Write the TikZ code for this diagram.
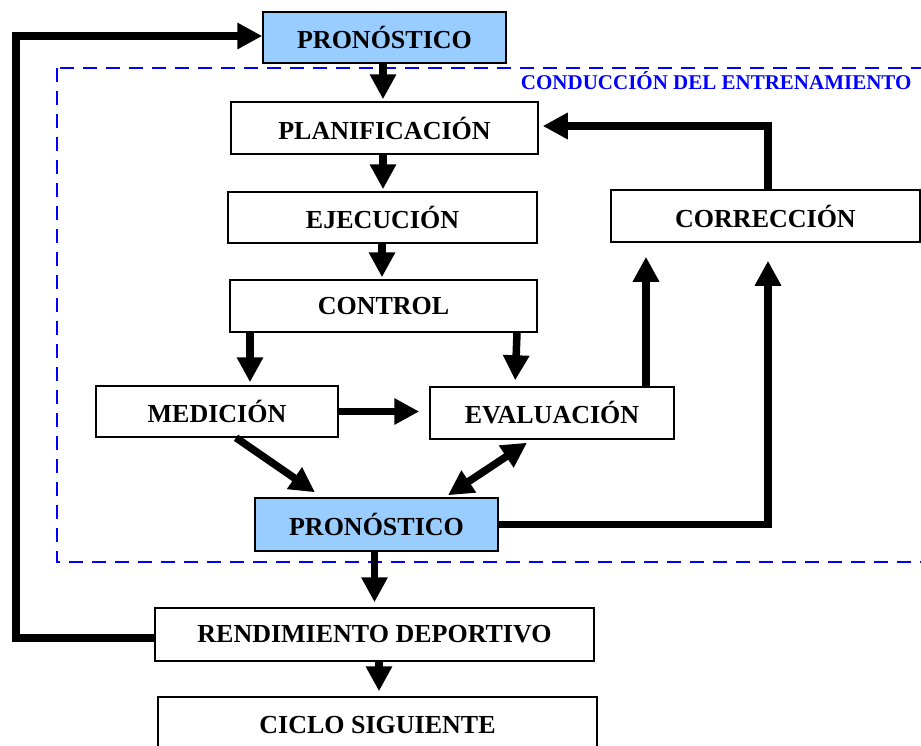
\documentclass[tikz,border=0pt]{standalone}
\usepackage{fontspec}
\setmainfont{Liberation Serif}
\usetikzlibrary{arrows.meta,calc}
\definecolor{boxblue}{HTML}{99CCFF}
\begin{document}
\begin{tikzpicture}[x=1pt,y=-1pt,
  box/.style={draw=black,line width=1.5pt,fill=white,inner sep=0pt,font=\bfseries\fontsize{26}{30}\selectfont},
  blbox/.style={box,fill=boxblue},
  arr/.style={line width=7.5pt,-{Triangle[length=25pt,width=25pt]}},
  darr/.style={line width=7.5pt,{Triangle[length=25pt,width=25pt]}-{Triangle[length=25pt,width=25pt]}}]
\useasboundingbox (0,0) rectangle (921,745);
\clip (0,0) rectangle (921,745);
% dashed frame
\draw[blue,line width=2.5pt,dash pattern=on 14pt off 9pt] (57,68) rectangle (940,562);
\node[text=blue,font=\bfseries\fontsize{21}{24}\selectfont,anchor=east] (lab) at (915,81) {CONDUCCIÓN DEL ENTRENAMIENTO};
% nodes
\node[blbox,minimum width=243pt,minimum height=51pt] (pron1) at (384.5,37.5) {PRONÓSTICO};
\node[box,minimum width=307pt,minimum height=52pt] (plan) at (384.5,128) {PLANIFICACIÓN};
\node[box,minimum width=309pt,minimum height=51pt] (ejec) at (382.5,217.5) {EJECUCIÓN};
\node[box,minimum width=309pt,minimum height=52pt] (corr) at (765.5,216) {CORRECCIÓN};
\node[box,minimum width=307pt,minimum height=52pt] (ctrl) at (383.5,306) {CONTROL};
\node[box,minimum width=242pt,minimum height=51pt] (med) at (217,411.5) {MEDICIÓN};
\node[box,minimum width=244pt,minimum height=52pt] (eval) at (552,413) {EVALUACIÓN};
\node[blbox,minimum width=243pt,minimum height=53pt] (pron2) at (376.5,524.5) {PRONÓSTICO};
\node[box,minimum width=439pt,minimum height=53pt] (rend) at (374.5,634.5) {RENDIMIENTO DEPORTIVO};
\node[box,minimum width=439pt,minimum height=56pt,text depth=0pt] (ciclo) at (377.5,725) {CICLO SIGUIENTE};
\coordinate (lx) at (16,0);
% connectors
\draw[arr,shorten >=2pt] ([xshift=-1.5pt]pron1.south) -- ([xshift=-1.5pt]pron1.south |- plan.north);
\draw[arr,shorten >=2pt] ([xshift=-1.5pt]plan.south) -- ([xshift=-1.5pt]plan.south |- ejec.north);
\draw[arr,shorten >=2pt] ([xshift=-0.5pt]ejec.south) -- ([xshift=-0.5pt]ejec.south |- ctrl.north);
\draw[arr,shorten >=3pt] ([xshift=-133.5pt]ctrl.south) -- ([xshift=-133.5pt]ctrl.south |- med.north);
\draw[arr,shorten >=6pt] ([xshift=133.5pt]ctrl.south) -- ([xshift=-37pt]eval.north);
\draw[arr] (med.east) -- ([xshift=-10pt]eval.west |- med.east);
\draw[arr] ([xshift=19pt]med.south) -- ([xshift=-61.5pt,yshift=5pt]pron2.north);
\draw[darr] ([xshift=-25pt,yshift=-3pt]eval.south) -- ([xshift=71.5pt,yshift=2pt]pron2.north);
\draw[arr,shorten >=14pt] ([xshift=94pt]eval.north) -- ([xshift=94pt]eval.north |- corr.south);
\draw[arr] (pron2.east) -| ([xshift=2.5pt,yshift=-18pt]corr.south);
\draw[arr] ([xshift=2.5pt]corr.north) |- ([xshift=4pt,yshift=2pt]plan.east);
\draw[arr,shorten >=5pt] ([xshift=-2pt]pron2.south) -- ([xshift=-2pt]pron2.south |- rend.north);
\draw[arr,shorten >=5pt] ([xshift=4.5pt]rend.south) -- ([xshift=4.5pt]rend.south |- ciclo.north);
\draw[arr] ([yshift=-3.5pt]rend.west) -| ([yshift=1.5pt]lx |- pron1.west) -- ([yshift=1.5pt]pron1.west);
\end{tikzpicture}
\end{document}
